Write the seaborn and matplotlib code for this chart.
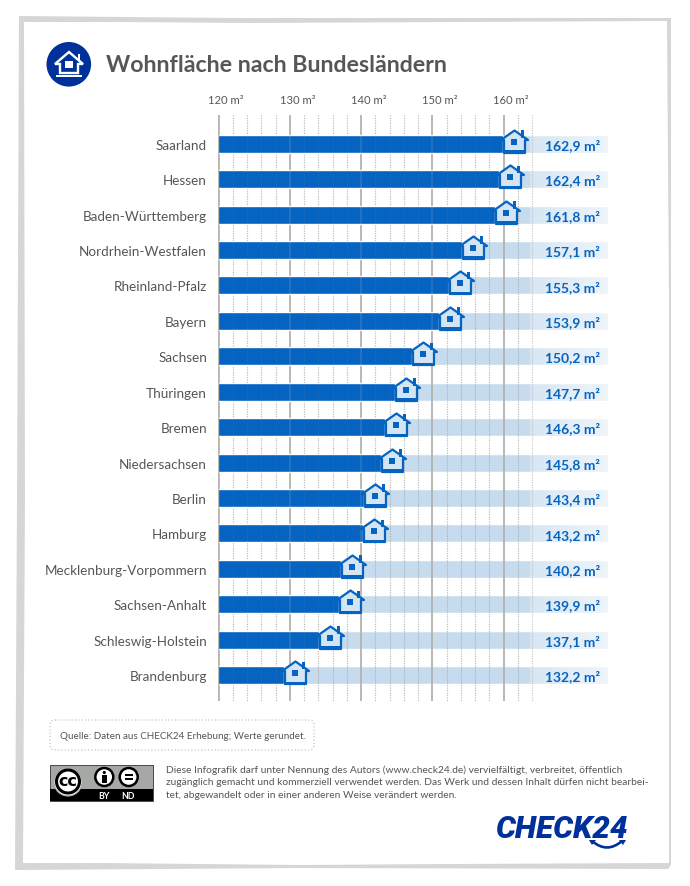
import matplotlib
matplotlib.use('Agg')
import numpy as np
import pandas as pd
import matplotlib.pyplot as plt
import seaborn as sns
from matplotlib.path import Path
from matplotlib.patches import Circle, FancyBboxPatch, PathPatch, Polygon, Rectangle
from matplotlib.transforms import ScaledTranslation

# --- data ---
laender = ['Saarland', 'Hessen', 'Baden-Württemberg', 'Nordrhein-Westfalen', 'Rheinland-Pfalz',
           'Bayern', 'Sachsen', 'Thüringen', 'Bremen', 'Niedersachsen', 'Berlin', 'Hamburg',
           'Mecklenburg-Vorpommern', 'Sachsen-Anhalt', 'Schleswig-Holstein', 'Brandenburg']
flaeche = [162.9, 162.4, 161.8, 157.1, 155.3, 153.9, 150.2, 147.7,
           146.3, 145.8, 143.4, 143.2, 140.2, 139.9, 137.1, 132.2]
major_ticks = [120, 130, 140, 150, 160]
minor_ticks = [122, 124, 126, 128, 132, 134, 136, 138, 142, 144, 146, 148,
               152, 154, 156, 158, 162, 164]

BLUE = '#0563c1'
LIGHT = '#c6dcee'
NAVY = '#00309a'
GREY = '#565656'
# the printed axis sits 3 units to the right of the bar scale in the original
AXIS_SHIFT = 3.0
PX = 7.13  # pixels per m2
FONT = 'Lato'

sns.set_style('white')
plt.rcParams['font.family'] = [FONT, 'DejaVu Sans']

df = pd.DataFrame({'land': laender, 'flaeche': flaeche})
fig = plt.figure(figsize=(6.9, 8.87), dpi=100, facecolor='white')

# --- page decoration in pixel coordinates ---
bg = fig.add_axes([0, 0, 1, 1], zorder=0)
bg.set_xlim(0, 690)
bg.set_ylim(887, 0)
bg.axis('off')

bg.add_patch(Polygon([(19, 17), (230, 19), (671, 19), (671, 866), (668, 870), (300, 869), (15, 871), (17, 500)],
                     fc='#d6d6d4', ec='none'))
bg.add_patch(Polygon([(24, 23), (120, 23), (250, 24), (667, 22), (669, 300), (669, 864), (450, 865), (300, 866),
                      (100, 864), (23, 864), (25, 500)], fc='white', ec='none'))

# round title icon
bg.add_patch(Circle((68.8, 65.3), 22.3, fc=NAVY, ec='none'))
bg.add_patch(Polygon([(55, 65), (69, 53), (83, 65), (78, 65), (78, 74), (60, 74), (60, 65)],
                     fc=NAVY, ec='white', lw=1.7, joinstyle='miter'))
bg.add_patch(Rectangle((65.2, 61.7), 7.4, 7.4, fc='white', ec='none'))
bg.add_patch(Rectangle((56, 76), 26, 2, fc='white', ec='none'))
bg.add_patch(Rectangle((78, 55), 2.4, 7, fc='white', ec='none'))
bg.text(106, 65.5, 'Wohnfläche nach Bundesländern', fontsize=16.7, fontweight='bold',
        color=GREY, va='center', ha='left')

# source box
bg.add_patch(FancyBboxPatch((52, 723), 260, 26, boxstyle='round,pad=2,rounding_size=5',
                            fc='white', ec='#b8b8b8', lw=0.8, ls=(0, (1, 2))))
bg.text(60, 736.5, 'Quelle: Daten aus CHECK24 Erhebung; Werte gerundet.', fontsize=7.1,
        color=GREY, va='center', ha='left')

# licence badge
bg.add_patch(Rectangle((50, 766), 103, 36, fc='#a6a8a5', ec='#333333', lw=0.6))
bg.add_patch(Rectangle((50, 790.5), 103, 11.5, fc='black', ec='none'))
bg.add_patch(Circle((68, 783), 14, fc='white', ec='#a6a8a5', lw=0.8))
bg.add_patch(Circle((68, 782.5), 11.5, fc='white', ec='black', lw=2.2))
bg.text(68, 782, 'cc', fontsize=11.5, fontweight='bold', color='black', ha='center', va='center',
        family='DejaVu Sans')
for cx in (104.3, 128.7):
    bg.add_patch(Circle((cx, 778), 9, fc='white', ec='black', lw=1.8))
bg.add_patch(Circle((104.3, 773.5), 1.6, fc='black', ec='none'))
bg.add_patch(Rectangle((102, 776), 4.6, 8, fc='black', ec='none'))
bg.add_patch(Rectangle((124.5, 774.8), 8.4, 2.2, fc='black', ec='none'))
bg.add_patch(Rectangle((124.5, 779), 8.4, 2.2, fc='black', ec='none'))
bg.text(104, 796.5, 'BY', fontsize=6.2, fontweight='bold', color='white', ha='center', va='center')
bg.text(128, 796.5, 'ND', fontsize=6.2, fontweight='bold', color='white', ha='center', va='center')

licence = ['Diese Infografik darf unter Nennung des Autors (www.check24.de) vervielfältigt, verbreitet, öffentlich',
           'zugänglich gemacht und kommerziell verwendet werden. Das Werk und dessen Inhalt dürfen nicht bearbei-',
           'tet, abgewandelt oder in einer anderen Weise verändert werden.']
for line, ypos in zip(licence, (770, 783, 796)):
    bg.text(166, ypos, line, fontsize=7.35, color=GREY, va='center', ha='left')

# logo
bg.text(495, 829, 'CHECK24', fontsize=22.5, fontweight=900, style='italic', color=NAVY,
        family='Roboto', va='center', ha='left')
bg.add_patch(PathPatch(Path([(592, 842), (607, 855), (622, 842)], [Path.MOVETO, Path.CURVE3, Path.CURVE3]),
                       fc='none', ec=NAVY, lw=1.9))
bg.add_patch(Polygon([(589, 841), (596, 841), (592, 846)], fc=NAVY, ec='none'))
bg.add_patch(Polygon([(619, 841), (626, 841), (623, 846)], fc=NAVY, ec='none'))

# --- chart ---
ax = fig.add_axes([218.5 / 690, 1 - 702 / 887, (608 - 218.5) / 690, (702 - 116) / 887],
                  zorder=2, facecolor='none')
x_min = 120 + AXIS_SHIFT
x_max = x_min + (608 - 218.5) / PX
df['rest'] = x_max

sns.barplot(data=df, x='rest', y='land', color=LIGHT, saturation=1, width=0.51, ax=ax, zorder=1)
sns.barplot(data=df, x='flaeche', y='land', color=BLUE, saturation=1, width=0.51, ax=ax, zorder=2)

# fade of the pale bars towards the right
fade = np.ones((1, 64, 4))
fade[0, :, 3] = np.linspace(0.3, 0.7, 64)
fade_start = x_min + (530 - 218.5) / PX
ax.imshow(fade, extent=(fade_start, x_max, 15.73, -0.81), aspect='auto', zorder=2.2)

ax.set_xlim(x_min, x_max)
ax.set_ylim(15.73, -0.81)
ax.set_xlabel('')
ax.set_ylabel('')
sns.despine(ax=ax, left=True, bottom=True)
ax.set_xticks([])
ax.tick_params(axis='y', length=0, pad=8.3, labelsize=9.7, labelcolor=GREY)

# grid lines: normal over the pale bars, only a trace of them over the dark bars
major_x = [t + AXIS_SHIFT for t in major_ticks]
minor_x = [t + AXIS_SHIFT for t in minor_ticks]
ax.vlines(major_x, -0.81, 15.73, color='#b4b4b0', lw=1.3, zorder=1.5, clip_on=False)
ax.vlines(minor_x, -0.81, 15.73, color='#a8a8a8', lw=0.8, linestyles=(0, (1, 1.2)), alpha=0.8, zorder=1.5)
ax.vlines(major_x, -0.81, 15.73, color='#b4b4b0', lw=1.3, alpha=0.2, zorder=3, clip_on=False)
ax.vlines(minor_x, -0.81, 15.73, color='#a8a8a8', lw=0.8, linestyles=(0, (1, 1.2)), alpha=0.15, zorder=3)

# printed axis on top
top = ax.secondary_xaxis('top', functions=(lambda v: v - AXIS_SHIFT, lambda v: v + AXIS_SHIFT))
top.set_xticks(major_ticks)
top.set_xticklabels([f'{t} m²' for t in major_ticks])
top.tick_params(length=0, pad=7, labelsize=8.1, labelcolor=GREY)
top.spines['top'].set_visible(False)
for lab in top.get_xticklabels():
    lab.set_transform(lab.get_transform() + ScaledTranslation(7.5 / 100, 0, fig.dpi_scale_trans))

# house marker, anchored on the end of the bar (pixel units, 11 px to the right)
R = 26.0
house_body = Path(np.array([(R, R), (-2.5, 4.5), (11, 14), (24.5, 4.5), (21.5, 4.5), (21.5, -8.5), (0.5, -8.5),
                            (0.5, 4.5), (-2.5, 4.5)]) / R,
                  [Path.MOVETO, Path.MOVETO] + [Path.LINETO] * 6 + [Path.CLOSEPOLY])
house_bits = Path.make_compound_path(
    Path(np.array([(R, R), (R, R)]) / R, [Path.MOVETO, Path.LINETO]),
    Path(np.array([(8, -1), (14, -1), (14, 5), (8, 5), (8, -1)]) / R, closed=True),
    Path(np.array([(0, -9.5), (22, -9.5), (22, -6.5), (0, -6.5), (0, -9.5)]) / R, closed=True),
    Path(np.array([(18, 6), (21, 6), (21, 13.5), (18, 13.5), (18, 6)]) / R, closed=True),
)
marker_s = (2 * R * 0.72) ** 2
y_pos = np.arange(len(laender))
ax.scatter(flaeche, y_pos, marker=house_body, s=marker_s, facecolor='#d3e4f2', edgecolor=BLUE,
           linewidth=1.6, zorder=4)
ax.scatter(flaeche, y_pos, marker=house_bits, s=marker_s, facecolor=BLUE, edgecolor='none', zorder=5)

# value labels in a fixed column
for i, val in enumerate(flaeche):
    ax.text(x_min + (545 - 218.5) / PX, i + 0.02, f'{val:.1f}'.replace('.', ',') + ' m²', fontsize=10,
            fontweight='bold', color=BLUE, va='center', ha='left', zorder=6)

fig.savefig('out.png', dpi=100)
